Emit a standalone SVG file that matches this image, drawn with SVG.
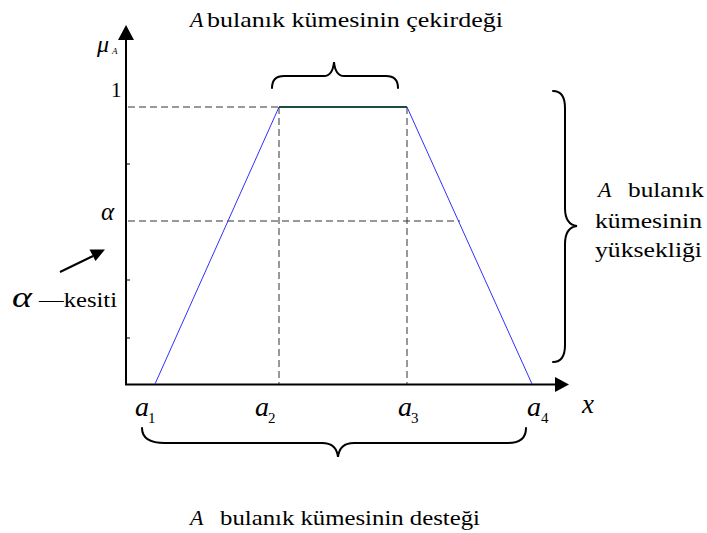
<svg xmlns="http://www.w3.org/2000/svg" width="707" height="533" viewBox="0 0 707 533">
<style>
.it { font-style: italic; }
.dash { stroke: #333; stroke-width: 1; stroke-dasharray: 7 4; fill: none; }
.axis { stroke: #000; stroke-width: 2; fill: none; }
.tick { stroke: #000; stroke-width: 1; }
.brace { stroke: #000; stroke-width: 2; fill: none; stroke-linecap: round; }
.blue { stroke: #3030ff; stroke-width: 1; fill: none; }
.core { stroke: #1e4d3f; stroke-width: 2; }
</style>
<rect width="707" height="533" fill="#fff"/>

<g id="axes" font-family="Liberation Serif, serif">
  <line class="axis" x1="126" y1="385" x2="126" y2="38"/>
  <polygon points="126,25 118,40 134,40" fill="#000"/>
  <line class="axis" x1="125" y1="384.5" x2="557" y2="384.5"/>
  <polygon points="569,384.5 555,377 555,392" fill="#000"/>
  <line class="tick" x1="126" y1="164" x2="130" y2="164"/>
  <line class="tick" x1="126" y1="280" x2="130" y2="280"/>
  <line class="tick" x1="126" y1="338" x2="130" y2="338"/>
  <text class="it" x="97" y="52" font-size="24">μ</text>
  <text class="it" x="112" y="54" font-size="9">A</text>
  <text x="111" y="97" font-size="21">1</text>
  <text class="it" x="101" y="220" font-size="25">α</text>
  <text class="it" x="582" y="413" font-size="27">x</text>
</g>

<g id="connectors">
  <line class="dash" x1="128" y1="107" x2="279" y2="107"/>
  <line class="dash" x1="128" y1="221" x2="460" y2="221"/>
  <line class="dash" x1="279" y1="107" x2="279" y2="384"/>
  <line class="dash" x1="407" y1="107" x2="407" y2="384"/>
  <polyline class="blue" points="155,384 279,107"/>
  <polyline class="blue" points="407,107 532,384"/>
  <line class="core" x1="279" y1="107" x2="407" y2="107"/>
  <line x1="60" y1="272" x2="93" y2="256" stroke="#000" stroke-width="2"/>
  <polygon points="105,249.5 89.5,249.5 95.5,261" fill="#000"/>
</g>

<g id="ticks-labels" font-family="Liberation Serif, serif">
  <text class="it" x="135" y="416" font-size="27" textLength="14" lengthAdjust="spacingAndGlyphs">a</text>
  <text x="148" y="423" font-size="15">1</text>
  <text class="it" x="255" y="416" font-size="27" textLength="14" lengthAdjust="spacingAndGlyphs">a</text>
  <text x="268" y="423" font-size="15">2</text>
  <text class="it" x="398" y="416" font-size="27" textLength="14" lengthAdjust="spacingAndGlyphs">a</text>
  <text x="411" y="423" font-size="15">3</text>
  <text class="it" x="527" y="416" font-size="27" textLength="14" lengthAdjust="spacingAndGlyphs">a</text>
  <text x="541" y="423" font-size="15">4</text>
</g>

<g id="core-label" font-family="Liberation Serif, serif">
  <path class="brace" d="M272,88 C272,80 276,76 284,76 L324,76 C330,76 333,72 334,62 C335,72 338,76 344,76 L386,76 C394,76 398,80 398,88"/>
  <text class="it" x="190" y="27" font-size="22">A</text>
  <text font-size="21" x="207" y="27" textLength="296" lengthAdjust="spacingAndGlyphs">bulanık kümesinin çekirdeği</text>
</g>

<g id="height-label" font-family="Liberation Serif, serif">
  <path class="brace" d="M553,91 C561,91 565,97 565,108 L565,208 C565,218 569,225 577,226 C569,227 565,234 565,244 L565,345 C565,356 561,362 553,362"/>
  <text class="it" x="598" y="197" font-size="22">A</text>
  <text font-size="21" x="628" y="197" textLength="76" lengthAdjust="spacingAndGlyphs">bulanık</text>
  <text font-size="21" x="595" y="228" textLength="107" lengthAdjust="spacingAndGlyphs">kümesinin</text>
  <text font-size="21" x="595" y="257" textLength="107" lengthAdjust="spacingAndGlyphs">yüksekliği</text>
</g>

<g id="support-label" font-family="Liberation Serif, serif">
  <path class="brace" d="M142,428 C142,438 150,443 165,443 L322,443 C332,443 337,448 338,457 C339,448 344,443 354,443 L508,443 C520,443 526,438 526,428"/>
  <text class="it" x="190" y="525" font-size="22">A</text>
  <text font-size="21" x="220" y="525" textLength="260" lengthAdjust="spacingAndGlyphs">bulanık kümesinin desteği</text>
</g>

<g id="alpha-cut-label" font-family="Liberation Serif, serif">
  <text class="it" x="12" y="307" font-size="30" textLength="20" lengthAdjust="spacingAndGlyphs">α</text>
  <text font-size="21" x="39" y="307" textLength="78" lengthAdjust="spacingAndGlyphs">—kesiti</text>
</g>
</svg>
